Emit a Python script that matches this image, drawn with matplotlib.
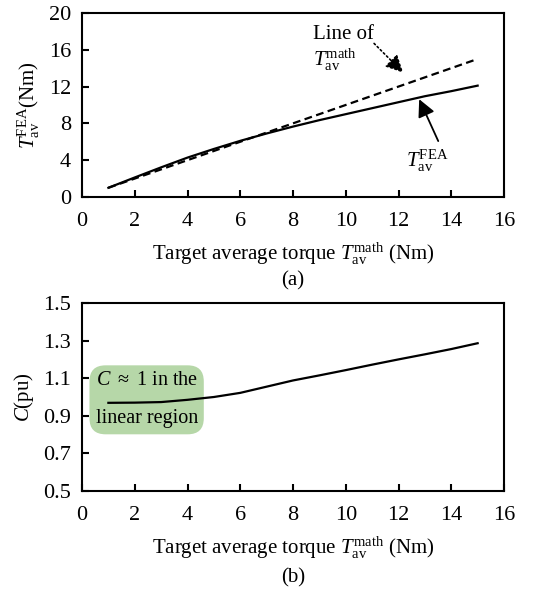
import matplotlib
matplotlib.use("Agg")
import matplotlib.pyplot as plt
import numpy as np

# fonts: Times-like text, Cambria-ish math
plt.rcParams['font.family'] = 'Liberation Serif'
plt.rcParams['mathtext.fontset'] = 'custom'
plt.rcParams['mathtext.rm'] = 'Liberation Serif'
plt.rcParams['mathtext.it'] = 'Liberation Serif:italic'
plt.rcParams['font.size'] = 15

# (a) average torque
t_target = [1, 2, 3, 4, 5, 6, 7, 8, 9, 10, 11, 12, 13, 14, 15]
t_fea = [1.0, 2.12, 3.22, 4.28, 5.22, 6.1, 6.9, 7.65, 8.35, 9.0, 9.65, 10.3, 10.95, 11.5, 12.1]
t_math = [1, 2, 3, 4, 5, 6, 7, 8, 9, 10, 11, 12, 13, 14, 15]

# (b) correction factor C
c_x = [1, 2, 3, 4, 5, 6, 7, 8, 9, 10, 11, 12, 13, 14, 15]
c_val = [0.969, 0.970, 0.973, 0.985, 1.0, 1.022, 1.055, 1.088, 1.115, 1.143, 1.172, 1.2, 1.227, 1.255, 1.286]

fig = plt.figure(figsize=(5.56, 5.94), dpi=100)
ax1 = fig.add_axes([0.1475, 0.6684, 0.759, 0.3098])
ax2 = fig.add_axes([0.1475, 0.1734, 0.759, 0.3165])

for ax in (ax1, ax2):
    for s in ax.spines.values():
        s.set_linewidth(1.5)
    ax.tick_params(direction='in', length=5, width=1.5, labelsize=16)
    ax.tick_params(axis='x', pad=11)
    ax.tick_params(axis='y', pad=8)
    ax.set_xlim(0, 16)
    ax.set_xticks(np.arange(0, 17, 2))

ax1.plot(t_target, t_fea, color='black', lw=1.6)
ax1.plot(t_target, t_math, color='black', lw=1.6, ls=(0, (3.5, 2)))
ax1.set_ylim(0, 20)
ax1.set_yticks(np.arange(0, 21, 4))
ax1.set_ylabel(r'$T_{\rm av}^{\rm FEA}$(Nm)', labelpad=5)
ax1.set_xlabel(r'Target average torque $T_{\rm av}^{\rm math}$ (Nm)', labelpad=7)

ax1.text(8.75, 17.7, 'Line of', ha='left', va='center')
ax1.text(8.75, 14.9, r'$T_{\rm av}^{\rm math}$', ha='left', va='center')
ax1.annotate('', xy=(12.25, 13.3), xytext=(11.0, 16.9),
             arrowprops=dict(arrowstyle='-|>,head_length=0.7,head_width=0.35',
                             color='black', lw=1.2, ls=':'))
ax1.annotate('', xy=(12.74, 10.9), xytext=(13.55, 5.8),
             arrowprops=dict(arrowstyle='-|>,head_length=0.7,head_width=0.35',
                             color='black', lw=1.3))
ax1.text(13.1, 3.9, r'$T_{\rm av}^{\rm FEA}$', ha='center', va='center')

ax2.plot(c_x, c_val, color='black', lw=1.6)
ax2.set_ylim(0.5, 1.5)
ax2.set_yticks([0.5, 0.7, 0.9, 1.1, 1.3, 1.5])
ax2.set_yticklabels(['0.5', '0.7', '0.9', '1.1', '1.3', '1.5'])
ax2.set_ylabel(r'$C$(pu)', labelpad=5)
ax2.set_xlabel(r'Target average torque $T_{\rm av}^{\rm math}$ (Nm)', labelpad=7)

ax2.text(2.45, 0.985, '$C$ $\\approx$ 1 in the\nlinear region', ha='center', va='center',
         fontsize=14.5, linespacing=2.35, zorder=1,
         bbox=dict(boxstyle='round,pad=0.3,rounding_size=0.8', fc='#b6d7a8', ec='none'))

fig.text(0.527, 0.528, '(a)', ha='center', va='center')
fig.text(0.527, 0.027, '(b)', ha='center', va='center')

fig.savefig('out.png', dpi=100)
